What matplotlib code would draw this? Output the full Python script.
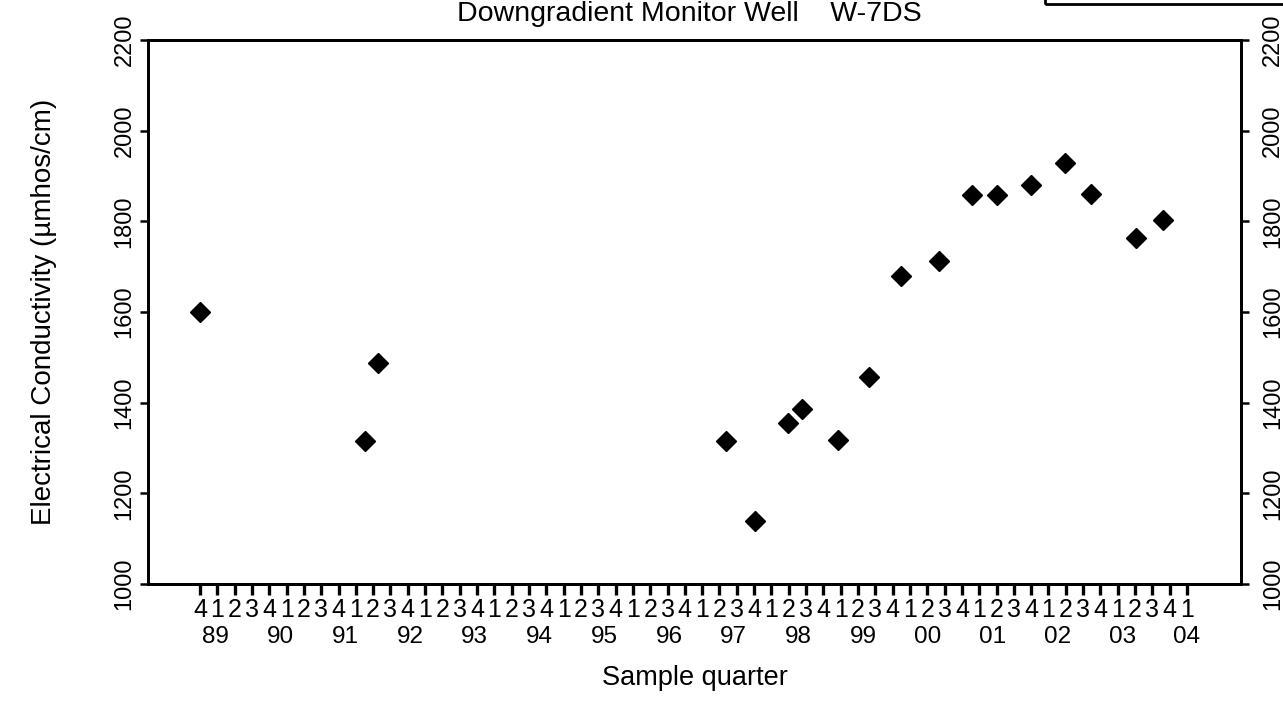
import numpy as np
import matplotlib
matplotlib.use("Agg")
import matplotlib.pyplot as plt
from matplotlib.patches import Rectangle


# -----------------------------
# DATA
# -----------------------------
# sample dates as decimal years
sample_date = [1989.75, 1992.13, 1992.32, 1997.34, 1997.76, 1998.24, 1998.44,
               1998.96, 1999.41, 1999.87, 2000.42, 2000.89, 2001.26, 2001.75,
               2002.24, 2002.61, 2003.26, 2003.65]
# electrical conductivity (umhos/cm)
conductivity = [1600, 1315, 1488, 1315, 1140, 1356, 1387, 1318, 1457, 1679,
                1712, 1859, 1859, 1881, 1929, 1861, 1763, 1802]

first_quarter = 1989.75   # 89 Q4
last_quarter = 2004.0     # 04 Q1
quarter_labels = ["4"] + ["1", "2", "3", "4"] * 14 + ["1"]
year_labels = ["89", "90", "91", "92", "93", "94", "95", "96", "97", "98",
               "99", "00", "01", "02", "03", "04"]
y_ticks = [1000, 1200, 1400, 1600, 1800, 2000, 2200]

plt.rcParams["font.family"] = ["Liberation Sans", "DejaVu Sans"]


def main():
    fig = plt.figure(figsize=(12.83, 7.17), dpi=100)
    ax = fig.add_axes([0.1154, 0.1855, 0.8519, 0.7587])

    ax.plot(sample_date, conductivity, linestyle="none", marker="D",
            markersize=10, color="black")

    # x axis: one tick per quarter
    quarter_pos = np.arange(len(quarter_labels)) * 0.25 + first_quarter
    ax.set_xlim(first_quarter - 0.75, last_quarter + 0.78)
    ax.set_xticks(quarter_pos)
    ax.set_xticklabels(quarter_labels, fontsize=18)
    ax.tick_params(axis="x", length=8, width=2.4, pad=2)

    # year row under the quarter digits
    year_pos = np.linspace(first_quarter + 0.225, last_quarter,
                           len(year_labels))
    for xp, lab in zip(year_pos, year_labels):
        ax.annotate(lab, xy=(xp, 0), xycoords=("data", "axes fraction"),
                    xytext=(0, -38), textcoords="offset points",
                    ha="center", va="center", fontsize=17.5)

    # y axes on both sides
    ax.set_ylim(1000, 2200)
    ax.set_yticks(y_ticks)
    ax.tick_params(axis="y", length=6, width=1.8, pad=3, labelsize=17,
                   labelrotation=90)
    for lab in ax.get_yticklabels():
        lab.set_va("center")

    ax2 = ax.twinx()
    ax2.set_ylim(1000, 2200)
    ax2.set_yticks(y_ticks)
    ax2.tick_params(axis="y", length=6, width=1.8, pad=9, labelsize=17,
                    labelrotation=90)
    for lab in ax2.get_yticklabels():
        lab.set_va("center")

    for a in (ax, ax2):
        for side in a.spines.values():
            side.set_linewidth(2)

    ax.set_ylabel("Electrical Conductivity (µmhos/cm)", fontsize=20)
    ax.yaxis.set_label_coords(-0.083, 0.5)
    ax.set_xlabel("Sample quarter", fontsize=19.5)
    ax.xaxis.set_label_coords(0.5, -0.148)

    # title right at the top edge of the page
    fig.text(0.537, 0.999, "Downgradient Monitor Well    W-7DS",
             ha="center", va="top", fontsize=20.5)

    # bottom edge of the legend box that was cropped away
    fig.add_artist(Rectangle((0.8145, 0.9944), 0.3, 0.1,
                             transform=fig.transFigure, fill=False,
                             linewidth=2, edgecolor="black", clip_on=False))

    fig.savefig("out.png", dpi=100)


if __name__ == "__main__":
    main()
